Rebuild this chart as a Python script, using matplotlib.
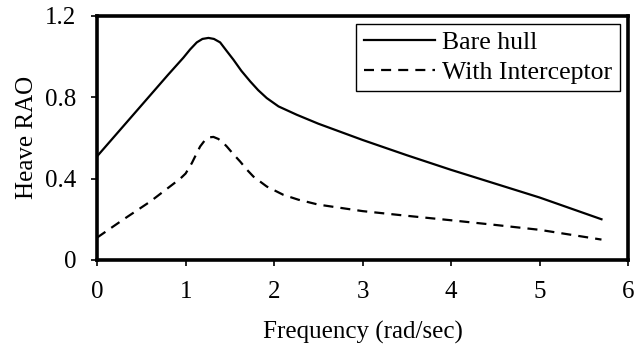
import matplotlib
matplotlib.use("Agg")
import matplotlib.pyplot as plt

# Heave RAO vs frequency
freq_bare = [0.0, 0.3, 0.6, 0.8, 0.975, 1.05, 1.126, 1.19, 1.258, 1.32, 1.39, 1.46, 1.54,
             1.63, 1.73, 1.82, 1.917, 2.05, 2.256, 2.5, 3.0, 3.5, 4.0, 4.5, 5.0, 5.7]
rao_bare = [0.51, 0.66, 0.81, 0.91, 0.995, 1.035, 1.07, 1.087, 1.092, 1.087, 1.07, 1.03, 0.985,
            0.93, 0.878, 0.835, 0.796, 0.755, 0.714, 0.67, 0.59, 0.515, 0.443, 0.375, 0.307, 0.20]

freq_int = [0.0, 0.3, 0.6, 0.94, 1.0, 1.07, 1.12, 1.164, 1.22, 1.27, 1.314, 1.37, 1.42, 1.465,
            1.54, 1.616, 1.69, 1.766, 1.917, 2.105, 2.275, 2.5, 3.0, 3.5, 4.0, 4.5, 5.0, 5.7]
rao_int = [0.11, 0.2, 0.287, 0.40, 0.425, 0.476, 0.52, 0.558, 0.59, 0.603, 0.605, 0.595, 0.578, 0.558,
           0.52, 0.484, 0.445, 0.41, 0.361, 0.32, 0.296, 0.272, 0.24, 0.217, 0.195, 0.172, 0.148, 0.10]

x_ticks = [0, 1, 2, 3, 4, 5, 6]
y_ticks = [0, 0.4, 0.8, 1.2]
y_labels = ['0', '0.4', '0.8', '1.2']

plt.rcParams['font.family'] = ['Liberation Serif', 'DejaVu Serif']
plt.rcParams['font.size'] = 18

fig = plt.figure(figsize=(6.35, 3.47), dpi=100)
ax = fig.add_axes([0.153, 0.251, 0.836, 0.703])

ax.plot(freq_bare, rao_bare, color='black', linewidth=1.6, label='Bare hull')
ax.plot(freq_int, rao_int, color='black', linewidth=1.6, linestyle=(0, (4.5, 3.2)),
        label='With Interceptor')

ax.set_xlim(0, 6)
ax.set_ylim(0, 1.2)
ax.set_xticks(x_ticks)
ax.set_yticks(y_ticks)
ax.set_yticklabels(y_labels)
ax.tick_params(direction='out', length=4, width=1.2, pad=11)

for s in ax.spines.values():
    s.set_linewidth(2.6)

ax.set_xlabel('Frequency (rad/sec)', labelpad=13)
ax.set_ylabel('Heave RAO', labelpad=5)

leg = ax.legend(loc='upper right', fancybox=False, framealpha=1, edgecolor='black',
                borderaxespad=0.3, handlelength=2.75, handletextpad=0.3,
                borderpad=0.3, labelspacing=0.25, prop={'size': 18.5})
leg.get_frame().set_linewidth(1.0)

fig.savefig('out.png', dpi=100)
